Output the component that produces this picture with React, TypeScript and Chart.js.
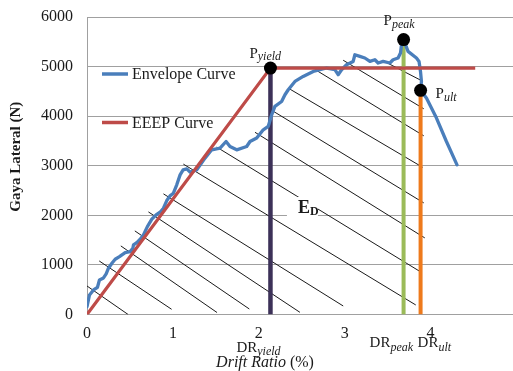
import React, { useEffect, useRef } from 'react';
import { Chart, registerables } from 'chart.js';
Chart.register(...registerables);

// ---------- data ----------
const envelopeX = [0, 0.029, 0.076, 0.122, 0.145, 0.192, 0.223, 0.25, 0.29, 0.328,
  0.378, 0.444, 0.502, 0.534, 0.541, 0.58, 0.619, 0.657, 0.703, 0.755,
  0.805, 0.859, 0.89, 0.929, 0.967, 1.006, 1.045, 1.084, 1.119, 1.162,
  1.2, 1.278, 1.374, 1.452, 1.549, 1.619, 1.665, 1.743, 1.859, 1.898,
  1.976, 2.052, 2.11, 2.15, 2.188, 2.266, 2.305, 2.343, 2.421, 2.517,
  2.634, 2.712, 2.79, 2.886, 2.924, 2.964, 3.022, 3.099, 3.119, 3.177,
  3.235, 3.294, 3.352, 3.39, 3.448, 3.526, 3.564, 3.622, 3.65, 3.662,
  3.686, 3.738, 3.836, 3.866, 3.883, 3.894, 3.884, 3.952, 4.069, 4.185, 4.308];
const envelopeY = [157, 394, 495, 549, 697, 737, 818, 933, 1034, 1115,
  1167, 1248, 1268, 1337, 1403, 1450, 1518, 1605, 1773, 1922,
  2009, 2076, 2144, 2298, 2393, 2447, 2615, 2816, 2917, 2938,
  2871, 2917, 3154, 3321, 3356, 3489, 3388, 3321, 3388, 3489,
  3558, 3725, 3792, 4028, 4196, 4296, 4432, 4533, 4700, 4801,
  4902, 4937, 4971, 4937, 4836, 4937, 5037, 5104, 5239, 5205,
  5173, 5104, 5138, 5072, 5104, 5072, 5138, 5173, 5274, 5441,
  5545, 5306, 5173, 5104, 4902, 4700, 4521, 4365, 3961, 3489, 3018];

const eeepX = [0, 2.136, 4.52];
const eeepY = [0, 4970, 4970];

const keyNames = ['yield', 'peak', 'ult'];
const keyX = [2.136, 3.686, 3.884];
const keyY = [4970, 5545, 4521];
const keyColors = ['#3C3158', '#9BBB59', '#EE7A1C'];

const hatchX1 = [0, 0.142, 0.394, 0.557, 0.715, 0.89, 1.122, 1.51, 1.956, 2.169, 2.355, 2.659, 2.983, 3.462];
const hatchY1 = [575, 1080, 1383, 1686, 2069, 2433, 3033, 3376, 3675, 4099, 4553, 4937, 5128, 5104];
const hatchX2 = [0.479, 0.985, 1.514, 1.89, 2.479, 2.983, 3.828, 3.886, 3.933, 3.921, 3.909, 3.921, 3.921, 3.898];
const hatchY2 = [0, 105, 40, 111, 44, 172, 192, 858, 1545, 2251, 2968, 3604, 4149, 4714];

const xMin = 0;
const xMax = 4.96;
const xStep = 1;
const yMin = 0;
const yMax = 6000;
const yStep = 1000;

const seriesNames = ['Envelope Curve', 'EEEP Curve'];
const energyLabel = ['E', 'D'];
const energyPos = [2.456, 2049];
const yTitle = 'Gaya Lateral (N)';
const xTitleItalic = 'Drift Ratio ';
const xTitleRegular = '(%)';

// ---------- styles ----------
const SERIF = '"Liberation Serif", "Times New Roman", serif';
const BLUE = '#4A7EBB';
const RED = '#BE4B48';
const GRID = '#A0A0A0';
const TEXT = '#1a1a1a';

function drawSub(ctx: CanvasRenderingContext2D, x: number, y: number, main: string, sub: string,
  mainFont: string, subFont: string, dy: number) {
  ctx.font = mainFont;
  ctx.fillText(main, x, y);
  const w = ctx.measureText(main).width;
  ctx.font = subFont;
  ctx.fillText(sub, x + w, y + dy);
}

const annotPlugin = {
  id: 'annot',
  afterDatasetsDraw(chart: any) {
    const ctx: CanvasRenderingContext2D = chart.ctx;
    const xs = chart.scales.x;
    const ys = chart.scales.y;
    const area = chart.chartArea;
    ctx.save();
    ctx.fillStyle = TEXT;
    ctx.textAlign = 'left';
    ctx.textBaseline = 'alphabetic';

    // legend
    const legendRows = [74, 122.5];
    seriesNames.forEach((name, i) => {
      const ds = chart.data.datasets.find((d: any) => d.label === name);
      const yy = legendRows[i];
      ctx.strokeStyle = ds.borderColor;
      ctx.lineWidth = 3.5;
      ctx.beginPath();
      ctx.moveTo(102, yy);
      ctx.lineTo(128, yy);
      ctx.stroke();
      ctx.font = `16px ${SERIF}`;
      ctx.textBaseline = 'middle';
      ctx.fillText(name, 132, yy + 1);
      ctx.textBaseline = 'alphabetic';
    });

    // P labels
    const pOff = [[-21, -10, 2], [-20, -15, 3], [15, 8, 3]];
    keyNames.forEach((n, i) => {
      const px = xs.getPixelForValue(keyX[i]);
      const py = ys.getPixelForValue(keyY[i]);
      drawSub(ctx, px + pOff[i][0], py + pOff[i][1], 'P', n,
        `15px ${SERIF}`, `italic 12px ${SERIF}`, pOff[i][2]);
    });

    // DR labels below the axis
    const drOff = [[-34, 37, 3.5], [-34, 32, 4], [-3, 32, 4]];
    keyNames.forEach((n, i) => {
      const px = xs.getPixelForValue(keyX[i]);
      drawSub(ctx, px + drOff[i][0], area.bottom + drOff[i][1], 'DR', n,
        `15px ${SERIF}`, `italic 12px ${SERIF}`, drOff[i][2]);
    });

    // E_D label with white box
    const ex = xs.getPixelForValue(energyPos[0]);
    const ey = ys.getPixelForValue(energyPos[1]);
    ctx.fillStyle = '#ffffff';
    ctx.fillRect(ex - 11, ey - 16, 31, 21);
    ctx.fillStyle = TEXT;
    drawSub(ctx, ex, ey, energyLabel[0], energyLabel[1], `bold 18px ${SERIF}`, `bold 12px ${SERIF}`, 2);

    // x title
    ctx.font = `italic 16px ${SERIF}`;
    const w1 = ctx.measureText(xTitleItalic).width;
    ctx.font = `16px ${SERIF}`;
    const w2 = ctx.measureText(xTitleRegular).width;
    const startX = 265 - (w1 + w2) / 2;
    ctx.font = `italic 16px ${SERIF}`;
    ctx.fillText(xTitleItalic, startX, 367);
    ctx.font = `16px ${SERIF}`;
    ctx.fillText(xTitleRegular, startX + w1, 367);

    // y title
    ctx.save();
    ctx.translate(16, 156.7);
    ctx.rotate(-Math.PI / 2);
    ctx.font = `bold 15px ${SERIF}`;
    ctx.textAlign = 'center';
    ctx.textBaseline = 'middle';
    ctx.fillText(yTitle, 0, 0);
    ctx.restore();

    ctx.restore();
  },
};

export default function App() {
  const ref = useRef<HTMLCanvasElement>(null);
  useEffect(() => {
    if (!ref.current) return;
    const hatchData: any[] = [];
    hatchX1.forEach((x1, i) => {
      hatchData.push({ x: x1, y: hatchY1[i] });
      hatchData.push({ x: hatchX2[i], y: hatchY2[i] });
      hatchData.push({ x: hatchX2[i], y: null });
    });
    const verticals = keyNames.map((n, i) => ({
      label: 'DR ' + n,
      data: [{ x: keyX[i], y: 0 }, { x: keyX[i], y: keyY[i] }],
      borderColor: keyColors[i],
      borderWidth: i === 0 ? 4.5 : 4,
      pointRadius: 0,
      order: 3,
    }));
    const chart = new Chart(ref.current, {
      type: 'line',
      data: {
        datasets: [
          {
            label: 'Key points',
            data: keyX.map((x, i) => ({ x, y: keyY[i] })),
            showLine: false,
            pointRadius: 6.5,
            pointBackgroundColor: '#000',
            pointBorderColor: '#000',
            borderWidth: 0,
            clip: false,
            order: 0,
          },
          {
            label: seriesNames[1],
            data: eeepX.map((x, i) => ({ x, y: eeepY[i] })),
            borderColor: RED,
            borderWidth: 3.2,
            pointRadius: 0,
            order: 1,
          },
          {
            label: seriesNames[0],
            data: envelopeX.map((x, i) => ({ x, y: envelopeY[i] })),
            borderColor: BLUE,
            borderWidth: 3.3,
            pointRadius: 0,
            borderJoinStyle: 'round',
            borderCapStyle: 'round',
            order: 2,
          },
          ...verticals,
          {
            label: 'hatch',
            data: hatchData,
            borderColor: '#1a1a1a',
            borderWidth: 1,
            pointRadius: 0,
            spanGaps: false,
            order: 4,
          },
        ] as any,
      },
      options: {
        animation: false,
        responsive: false,
        devicePixelRatio: 1,
        events: [],
        layout: { autoPadding: false, padding: { top: 17, left: 0, right: 0, bottom: 0 } },
        plugins: { legend: { display: false }, tooltip: { enabled: false } },
        scales: {
          x: {
            type: 'linear',
            min: xMin,
            max: xMax,
            ticks: {
              stepSize: xStep,
              padding: 10,
              color: TEXT,
              font: { family: SERIF, size: 16 },
              maxRotation: 0,
              callback: (v: any) => String(v),
            },
            afterBuildTicks: (s: any) => {
              s.ticks = s.ticks.filter((t: any) => Number.isInteger(t.value));
            },
            grid: { display: false, drawTicks: false },
            border: { display: true, color: GRID, width: 1 },
            afterFit: (s: any) => { s.height = 56.5; s.paddingLeft = 0; s.paddingRight = 0; },
          },
          y: {
            type: 'linear',
            min: yMin,
            max: yMax,
            ticks: {
              stepSize: yStep,
              padding: 14,
              color: TEXT,
              font: { family: SERIF, size: 16 },
              callback: (v: any) => String(v),
            },
            grid: { color: GRID, lineWidth: 1, drawTicks: false },
            border: { display: true, color: GRID, width: 1 },
            afterFit: (s: any) => { s.width = 87; s.paddingTop = 0; s.paddingBottom = 0; },
          },
        },
      } as any,
      plugins: [annotPlugin],
    });
    return () => chart.destroy();
  }, []);
  return (
    <div style={{ position: 'fixed', left: 0, top: 0, width: 513, height: 371, background: '#fff' }}>
      <canvas ref={ref} width={513} height={371} style={{ display: 'block' }} />
    </div>
  );
}
